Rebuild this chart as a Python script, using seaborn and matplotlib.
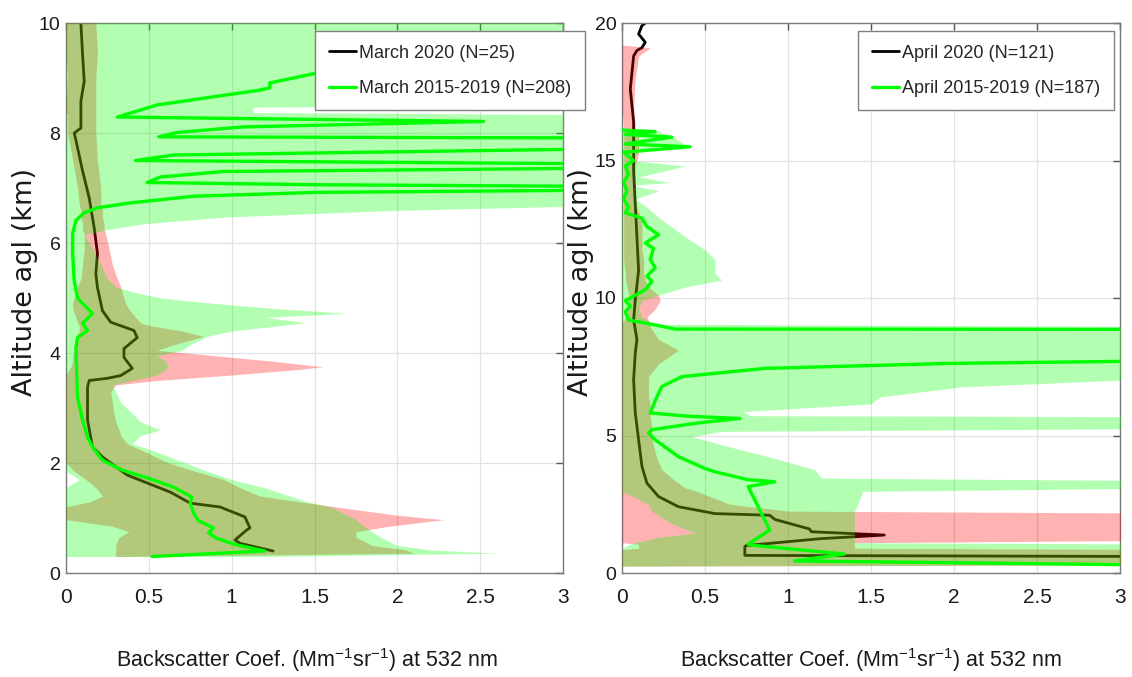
import matplotlib
matplotlib.use("Agg")
import matplotlib.pyplot as plt
import seaborn as sns

# ---------------- DATA ----------------
# Left panel: March
mar_band_alt = [0.30, 0.36, 0.42, 0.50, 0.65, 0.75, 0.85, 0.97, 1.05, 1.20, 1.30, 1.40, 1.55, 1.70,
                1.85, 2.00, 2.20, 2.35, 2.50, 2.60, 2.75, 2.90, 3.10, 3.30, 3.42, 3.50, 3.60, 3.70,
                3.75, 3.85, 3.95, 4.05, 4.15, 4.30, 4.40, 4.50, 4.55, 4.65, 4.72, 4.80, 4.90, 5.00,
                5.10, 5.20, 5.35, 5.60, 5.90, 6.15, 6.25, 6.35, 6.47, 6.59, 6.70, 7.00, 7.50, 8.00,
                8.33, 8.37, 8.47, 8.50, 9.00, 9.50, 10.0]
mar_clim_lo = [0.0, 0.0, 0.0, 0.0, 0.0, 0.0, 0.0, 0.0, 0.0, 0.0, 0.0, 0.0, 0.0, 0.08,
               0.0, 0.0, 0.0, 0.0, 0.0, 0.0, 0.0, 0.0, 0.0, 0.0, 0.0, 0.0, 0.0, 0.0,
               0.0, 0.0, 0.0, 0.0, 0.0, 0.0, 0.0, 0.0, 0.0, 0.0, 0.0, 0.0, 0.0, 0.0,
               0.0, 0.0, 0.0, 0.0, 0.0, 0.0, 0.0, 0.0, 0.0, 0.0, 0.0, 0.0, 0.0, 0.0,
               0.0, 0.0, 0.0, 0.0, 0.0, 0.0, 0.0]
mar_clim_hi = [1.20, 2.60, 2.20, 2.00, 1.90, 1.85, 1.80, 1.75, 1.70, 1.60, 1.45, 1.35, 1.20, 1.00,
               0.85, 0.72, 0.55, 0.40, 0.45, 0.57, 0.45, 0.40, 0.33, 0.30, 0.28, 0.40, 0.55, 0.60,
               0.62, 0.60, 0.55, 0.70, 0.75, 0.85, 1.00, 1.30, 1.45, 1.20, 1.70, 1.30, 0.90, 0.57,
               0.42, 0.30, 0.25, 0.21, 0.16, 0.11, 0.26, 0.47, 0.95, 1.95, 3.50, 3.50, 3.50, 3.50,
               3.50, 1.13, 1.13, 3.50, 3.50, 3.50, 3.50]
mar_2020_lo = [0.30, 0.30, 0.30, 0.30, 0.32, 0.38, 0.28, 0.0, 0.0, 0.0, 0.15, 0.22, 0.18, 0.12,
               0.05, 0.0, 0.0, 0.0, 0.0, 0.0, 0.0, 0.0, 0.0, 0.0, 0.0, 0.0, 0.0, 0.02,
               0.03, 0.04, 0.04, 0.05, 0.05, 0.06, 0.08, 0.08, 0.07, 0.06, 0.05, 0.04, 0.04, 0.05,
               0.06, 0.07, 0.09, 0.10, 0.11, 0.11, 0.10, 0.10, 0.09, 0.09, 0.08, 0.07, 0.04, 0.01,
               0.01, 0.0, 0.0, 0.0, 0.01, 0.0, 0.0]
mar_2020_hi = [0.30, 2.10, 2.05, 1.85, 1.75, 1.75, 1.95, 2.28, 2.00, 1.63, 1.40, 1.17, 1.05, 0.95,
               0.78, 0.62, 0.48, 0.37, 0.33, 0.32, 0.30, 0.29, 0.28, 0.27, 0.30, 0.55, 1.00, 1.40,
               1.55, 1.25, 0.90, 0.55, 0.65, 0.83, 0.70, 0.50, 0.45, 0.42, 0.40, 0.38, 0.36, 0.35,
               0.34, 0.33, 0.31, 0.28, 0.26, 0.24, 0.23, 0.23, 0.22, 0.22, 0.21, 0.21, 0.19, 0.18,
               0.18, 0.18, 0.18, 0.18, 0.18, 0.19, 0.18]
mar_2020_x = [1.25, 1.05, 1.02, 1.09, 1.11, 1.08, 0.93, 0.75, 0.63, 0.37, 0.22, 0.16, 0.13, 0.13,
              0.14, 0.25, 0.33, 0.40, 0.35, 0.35, 0.43, 0.41, 0.27, 0.22, 0.19, 0.18, 0.19, 0.17,
              0.14, 0.10, 0.07, 0.05, 0.09, 0.09, 0.11, 0.10, 0.09]
mar_2020_alt = [0.40, 0.54, 0.60, 0.78, 0.82, 1.02, 1.20, 1.27, 1.47, 1.78, 2.11, 2.29, 2.78, 3.38,
                3.50, 3.54, 3.59, 3.72, 3.92, 4.08, 4.28, 4.41, 4.56, 4.77, 5.19, 5.44, 5.81, 6.28,
                6.82, 7.31, 7.73, 8.00, 8.09, 8.58, 8.94, 9.43, 9.98]
mar_clim_x = [0.52, 1.20, 1.03, 0.91, 0.86, 0.89, 0.80, 0.77, 0.75, 0.76, 0.65, 0.50, 0.34, 0.22,
              0.16, 0.13, 0.10, 0.07, 0.066, 0.06, 0.07, 0.13, 0.10, 0.16, 0.10, 0.07, 0.05, 0.04,
              0.04, 0.06, 0.11, 0.19, 0.39, 0.77, 1.50, 3.20, 3.20, 1.50, 0.49, 0.57, 0.95, 3.20,
              3.20, 0.42, 0.65, 3.20, 3.20, 0.56, 0.67, 1.07, 2.52, 0.31, 0.55, 1.17, 1.23, 1.23,
              1.53, 1.55, 1.61, 2.00, 3.20]
mar_clim_alt = [0.30, 0.40, 0.51, 0.63, 0.73, 0.82, 0.95, 1.09, 1.27, 1.38, 1.56, 1.72, 1.87, 2.05,
                2.29, 2.47, 2.78, 3.19, 3.50, 4.10, 4.28, 4.41, 4.54, 4.72, 4.90, 5.00, 5.30, 5.80,
                6.17, 6.41, 6.55, 6.64, 6.73, 6.85, 6.92, 6.96, 7.03, 7.06, 7.10, 7.20, 7.30, 7.36,
                7.44, 7.50, 7.60, 7.71, 7.91, 7.93, 8.01, 8.11, 8.21, 8.29, 8.51, 8.78, 8.82, 8.91,
                9.10, 9.25, 9.34, 9.50, 9.80]

# Right panel: April
apr_band_alt = [0.25, 0.30, 0.85, 0.90, 1.05, 1.10, 1.20, 1.30, 1.45, 1.80, 2.17, 2.25, 2.50, 2.97,
                3.10, 3.35, 3.45, 3.76, 4.20, 4.60, 4.96, 5.15, 5.26, 5.68, 5.72, 5.87, 6.15, 6.40,
                6.77, 7.14, 7.60, 8.10, 8.50, 8.95, 9.05, 9.30, 9.60, 9.90, 10.10, 10.40, 10.65, 10.90,
                11.40, 11.75, 12.23, 12.84, 13.30, 13.60, 13.90, 14.10, 14.20, 14.40, 14.80, 15.00,
                15.30, 15.50, 15.90, 16.10, 16.20, 17.00, 18.00, 18.80, 19.10, 19.20]
apr_clim_lo = [0.0, 0.0, 0.0, 0.0, 0.05, 0.08, 0.15, 0.22, 0.44, 0.30, 0.20, 0.18, 0.16, 0.0,
               0.0, 0.0, 0.0, 0.0, 0.0, 0.0, 0.0, 0.0, 0.0, 0.0, 0.0, 0.0, 0.0, 0.0,
               0.0, 0.0, 0.0, 0.0, 0.0, 0.0, 0.0, 0.0, 0.0, 0.0, 0.0, 0.0, 0.0, 0.0,
               0.0, 0.0, 0.0, 0.0, 0.0, 0.0, 0.0, 0.0, 0.0, 0.0, 0.0, 0.0,
               0.0, 0.0, 0.0, 0.0, 0.0, 0.0, 0.0, 0.0, 0.0, 0.0]
apr_clim_hi = [0.0, 3.50, 3.50, 3.50, 3.50, 1.40, 1.40, 1.40, 1.40, 1.40, 1.40, 1.40, 1.42, 1.45,
               3.50, 3.50, 1.20, 1.16, 0.90, 0.64, 0.42, 0.60, 3.50, 3.50, 0.77, 0.73, 1.50, 1.55,
               2.05, 3.50, 3.50, 3.50, 3.50, 3.50, 0.20, 0.12, 0.10, 0.12, 0.22, 0.38, 0.60, 0.56,
               0.56, 0.50, 0.38, 0.24, 0.15, 0.08, 0.22, 0.05, 0.29, 0.10, 0.38, 0.05,
               0.10, 0.40, 0.30, 0.20, 0.0, 0.0, 0.0, 0.0, 0.0, 0.0]
apr_2020_lo = [0.0, 0.0, 0.0, 0.10, 0.10, 0.0, 0.0, 0.0, 0.0, 0.0, 0.0, 0.0, 0.0, 0.0,
               0.0, 0.0, 0.0, 0.0, 0.0, 0.0, 0.0, 0.0, 0.0, 0.0, 0.0, 0.0, 0.0, 0.0,
               0.0, 0.0, 0.0, 0.0, 0.0, 0.0, 0.0, 0.02, 0.03, 0.04, 0.04, 0.03, 0.02, 0.02,
               0.01, 0.01, 0.01, 0.01, 0.01, 0.01, 0.01, 0.01, 0.01, 0.01, 0.01, 0.01,
               0.01, 0.01, 0.01, 0.01, 0.01, 0.0, 0.0, 0.0, 0.0, 0.0]
apr_2020_hi = [0.0, 3.50, 3.50, 1.40, 1.40, 1.40, 3.50, 3.50, 3.50, 3.50, 3.50, 1.00, 0.65, 0.45,
               0.38, 0.32, 0.30, 0.24, 0.21, 0.19, 0.18, 0.18, 0.18, 0.17, 0.17, 0.17, 0.17, 0.16,
               0.16, 0.16, 0.22, 0.34, 0.22, 0.17, 0.17, 0.15, 0.20, 0.23, 0.22, 0.16, 0.14, 0.13,
               0.13, 0.12, 0.12, 0.12, 0.09, 0.08, 0.08, 0.08, 0.08, 0.08, 0.08, 0.09,
               0.10, 0.10, 0.10, 0.09, 0.08, 0.07, 0.08, 0.10, 0.17, 0.0]
apr_2020_x = [3.20, 0.74, 0.74, 0.75, 1.20, 1.58, 1.14, 1.13, 0.92, 0.89, 0.56, 0.34, 0.22, 0.15,
              0.12, 0.10, 0.08, 0.07, 0.08, 0.09, 0.07, 0.08, 0.10, 0.09, 0.08, 0.07, 0.07, 0.07,
              0.06, 0.05, 0.06, 0.07, 0.09, 0.12, 0.14, 0.10, 0.12, 0.14]
apr_2020_alt = [0.60, 0.64, 0.96, 1.00, 1.25, 1.38, 1.50, 1.60, 1.95, 2.10, 2.16, 2.41, 2.78, 3.27,
                3.88, 4.85, 5.82, 7.03, 8.00, 8.50, 9.20, 9.93, 11.0, 12.2, 13.4, 14.6, 15.2, 16.4,
                17.0, 17.6, 18.2, 18.8, 19.0, 19.1, 19.3, 19.6, 19.9, 20.0]
apr_clim_x = [3.20, 1.04, 1.34, 0.80, 0.76, 0.89, 0.82, 0.76, 0.92, 0.76, 0.56, 0.50, 0.34, 0.20,
              0.16, 0.18, 0.45, 0.71, 0.40, 0.17, 0.21, 0.24, 0.36, 0.86, 1.96, 3.20, 3.20, 0.32,
              0.20, 0.04, 0.02, 0.05, 0.02, 0.08, 0.14, 0.18, 0.15, 0.20, 0.17, 0.19, 0.14, 0.22,
              0.15, 0.12, 0.02, 0.04, 0.01, 0.03, 0.01, 0.04, 0.02, 0.07, 0.01, 0.41, 0.02, 0.30,
              0.02, 0.20, 0.0]
apr_clim_alt = [0.29, 0.44, 0.69, 1.00, 1.05, 1.56, 2.41, 3.14, 3.32, 3.39, 3.68, 3.80, 4.23, 4.84,
                5.09, 5.21, 5.45, 5.62, 5.70, 5.82, 6.41, 6.78, 7.14, 7.44, 7.62, 7.71, 8.86, 8.87,
                9.02, 9.20, 9.50, 9.70, 9.90, 10.10, 10.30, 10.60, 10.80, 11.10, 11.40, 11.80, 12.00, 12.30,
                12.60, 12.90, 13.10, 13.30, 13.60, 13.90, 14.20, 14.50, 14.80, 15.00, 15.30, 15.50, 15.60, 15.85,
                15.95, 16.05, 16.10]

x_ticks = [0, 0.5, 1, 1.5, 2, 2.5, 3]
x_tick_labels = ["0", "0.5", "1", "1.5", "2", "2.5", "3"]
mar_y_ticks = [0, 2, 4, 6, 8, 10]
apr_y_ticks = [0, 5, 10, 15, 20]
mar_labels = ["March 2020 (N=25)", "March 2015-2019 (N=208)"]
apr_labels = ["April 2020 (N=121)", "April 2015-2019 (N=187)"]
x_label = "Backscatter Coef. (Mm$^{-1}$sr$^{-1}$) at 532 nm"
y_label = "Altitude agl (km)"

# ---------------- STYLE ----------------
sns.set_style("white")
plt.rcParams["font.family"] = ["Liberation Sans", "DejaVu Sans"]
plt.rcParams["mathtext.fontset"] = "custom"
plt.rcParams["mathtext.rm"] = "Liberation Sans"
plt.rcParams["mathtext.it"] = "Liberation Sans"

fig = plt.figure(figsize=(11.32, 6.77), dpi=100)
ax1 = fig.add_axes([66 / 1132, 1 - 573 / 677, 497 / 1132, 550 / 677])
ax2 = fig.add_axes([622 / 1132, 1 - 573 / 677, 498 / 1132, 550 / 677])

GREEN = (0, 1, 0)
RED = (1, 0, 0)


def draw(ax, band_alt, c_lo, c_hi, n_lo, n_hi, nx, nalt, cx, calt, labels, ymax, yticks,
         legend_anchor, xlabel_x):
    sns.lineplot(x=nx, y=nalt, sort=False, estimator=None, color="black", lw=2.0,
                 ax=ax, zorder=2, label=labels[0])
    ax.fill_betweenx(band_alt, n_lo, n_hi, color=RED, alpha=0.3, lw=0, zorder=3)
    ax.fill_betweenx(band_alt, c_lo, c_hi, color=GREEN, alpha=0.3, lw=0, zorder=4)
    sns.lineplot(x=cx, y=calt, sort=False, estimator=None, color=GREEN, lw=2.4,
                 ax=ax, zorder=5, label=labels[1])
    ax.set_xlim(0, 3)
    ax.set_ylim(0, ymax)
    ax.set_xticks(x_ticks)
    ax.set_xticklabels(x_tick_labels)
    ax.set_yticks(yticks)
    ax.set_yticklabels([str(t) for t in yticks])
    ax.grid(True, color="#e2e2e2", lw=0.9)
    ax.set_axisbelow(True)
    ax.tick_params(direction="in", top=True, right=True, length=5, width=1,
                   color="#555555", labelcolor="#1a1a1a", labelsize=15)
    ax.tick_params(axis="x", pad=11)
    ax.tick_params(axis="y", pad=4, labelsize=14)
    for s in ax.spines.values():
        s.set_color("#7a7a7a")
        s.set_linewidth(1.0)
    ax.set_xlabel(x_label, fontsize=15.5, color="#1a1a1a", va="center")
    ax.xaxis.set_label_coords(xlabel_x, -0.158)
    ax.set_ylabel(y_label, fontsize=19.5, color="#1a1a1a", family=["DejaVu Sans"], va="center")
    ax.yaxis.set_label_coords(-0.082, 0.53)
    leg = ax.legend(loc="upper right", bbox_to_anchor=legend_anchor, frameon=True, fancybox=False,
                    edgecolor="#808080", framealpha=1, fontsize=13, handlelength=1.5,
                    handletextpad=0.2, labelspacing=1.0, borderpad=0.75, borderaxespad=0)
    leg.get_frame().set_linewidth(1.0)
    leg.set_zorder(10)


draw(ax1, mar_band_alt, mar_clim_lo, mar_clim_hi, mar_2020_lo, mar_2020_hi,
     mar_2020_x, mar_2020_alt, mar_clim_x, mar_clim_alt, mar_labels, 10, mar_y_ticks,
     (1.044, 0.985), 0.485)
draw(ax2, apr_band_alt, apr_clim_lo, apr_clim_hi, apr_2020_lo, apr_2020_hi,
     apr_2020_x, apr_2020_alt, apr_clim_x, apr_clim_alt, apr_labels, 20, apr_y_ticks,
     (0.988, 0.985), 0.5)

fig.savefig("out.png", dpi=100)
